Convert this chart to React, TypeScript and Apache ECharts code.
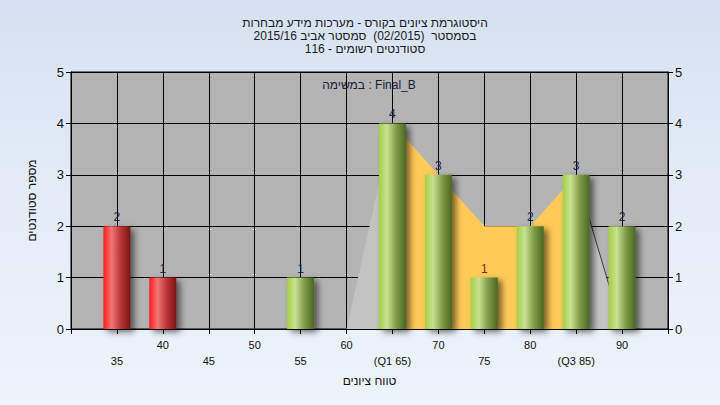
import React, { useEffect, useRef } from "react";
import * as echarts from "echarts";

const titleLines = [
  "היסטוגרמת ציונים בקורס - מערכות מידע מבחרות",
  "בסמסטר  (02/2015)  סמסטר אביב 2015/16",
  "סטודנטים רשומים - 116",
];
const legendText = "במשימה : Final_B";
const yAxisTitle = "מספר סטודנטים";
const xAxisTitle = "טווח ציונים";

const categories = [35, 40, 45, 50, 55, 60, 65, 70, 75, 80, 85, 90];
const counts = [2, 1, 0, 0, 1, 0, 4, 3, 1, 2, 3, 2];
const tickLabels = ["35", "40", "45", "50", "55", "60", "(Q1 65)", "70", "75", "80", "(Q3 85)", "90"];
const failBelow = 45;

// interquartile polygon (Q1..Q3)
const iqrX = [65, 70, 75, 80, 85];
const iqrY = [4, 3, 2, 2, 3];
// whisker polygons
const lowWhiskerX = [60, 65];
const lowWhiskerY = [0, 4];
const highWhiskerX = [85, 90];
const highWhiskerY = [3, 0];

const yTicks = [0, 1, 2, 3, 4, 5];

const FONT = "'Liberation Sans', Arial, sans-serif";

const redGrad = () =>
  new echarts.graphic.LinearGradient(0, 0, 1, 0, [
    { offset: 0, color: "#ff1c1c" },
    { offset: 0.3, color: "#f07676" },
    { offset: 0.65, color: "#b83434" },
    { offset: 1, color: "#7a1414" },
  ]);
const greenGrad = () =>
  new echarts.graphic.LinearGradient(0, 0, 1, 0, [
    { offset: 0, color: "#a2d044" },
    { offset: 0.3, color: "#c9e192" },
    { offset: 0.65, color: "#7d9a45" },
    { offset: 1, color: "#4b6622" },
  ]);

export default function App() {
  const ref = useRef<HTMLDivElement>(null);

  useEffect(() => {
    if (!ref.current) return;
    const chart = echarts.init(ref.current, null, { renderer: "svg" });

    const barData = categories
      .map((c, i) => ({ c, v: counts[i] }))
      .filter((d) => d.v > 0)
      .map((d) => ({
        value: [d.c, d.v],
        itemStyle: { color: d.c < failBelow ? redGrad() : greenGrad() },
        label: { color: d.c === 75 ? "#7a2c12" : "#1c2644" },
      }));

    const xLabel = (v: number) => {
      const i = categories.indexOf(v);
      if (i < 0) return "";
      return i % 2 === 1 ? `${tickLabels[i]}\n ` : ` \n${tickLabels[i]}`;
    };

    const yAxisCommon = {
      type: "value",
      min: yTicks[0],
      max: yTicks[yTicks.length - 1],
      interval: 1,
      axisLine: { show: true, lineStyle: { color: "#000", width: 1 } },
      axisTick: { show: true, length: 5, lineStyle: { color: "#000" } },
      axisLabel: { color: "#111", fontSize: 13, fontFamily: FONT, margin: 7 },
    };

    chart.setOption({
      animation: false,
      backgroundColor: "transparent",
      textStyle: { fontFamily: FONT },
      title: {
        text: titleLines.join("\n"),
        left: 360,
        textAlign: "center",
        top: 11,
        textStyle: { fontSize: 12, lineHeight: 13, fontWeight: "normal", color: "#1a1a22", fontFamily: FONT },
      },
      graphic: [
        {
          type: "text",
          x: 369,
          y: 85,
          style: {
            text: legendText,
            align: "center",
            verticalAlign: "middle",
            fontSize: 12,
            fill: "#1c1c3a",
            fontFamily: FONT,
          },
          z: 100,
        },
      ],
      grid: {
        left: 71,
        right: 52,
        top: 72,
        bottom: 76,
        show: true,
        backgroundColor: "#b4b4b4",
        borderColor: "#000",
        borderWidth: 1,
      },
      xAxis: {
        type: "value",
        min: 30,
        max: 95,
        interval: 5,
        name: xAxisTitle,
        nameLocation: "middle",
        nameGap: 46,
        nameTextStyle: { fontSize: 12, color: "#111", fontFamily: FONT },
        axisLine: { show: true, lineStyle: { color: "#000" } },
        axisTick: { show: true, length: 5, lineStyle: { color: "#000" } },
        splitLine: { show: true, lineStyle: { color: "#000", width: 1 } },
        axisLabel: {
          formatter: xLabel,
          fontSize: 11,
          color: "#111",
          lineHeight: 16,
          margin: 8,
          showMinLabel: true,
          showMaxLabel: true,
          fontFamily: FONT,
        },
      },
      yAxis: [
        {
          ...yAxisCommon,
          position: "left",
          name: yAxisTitle,
          nameLocation: "middle",
          nameRotate: 90,
          nameGap: 33,
          nameTextStyle: { fontSize: 12, color: "#111", fontFamily: FONT },
          splitLine: { show: true, lineStyle: { color: "#000", width: 1 } },
        },
        {
          ...yAxisCommon,
          position: "right",
          splitLine: { show: false },
        },
      ],
      series: [
        {
          type: "line",
          data: lowWhiskerX.map((x, i) => [x, lowWhiskerY[i]]),
          symbol: "none",
          lineStyle: { width: 0, color: "#c4c4c4" },
          areaStyle: { color: "#c3c3c3", opacity: 1 },
          z: 2,
          silent: true,
        },
        {
          type: "line",
          data: highWhiskerX.map((x, i) => [x, highWhiskerY[i]]),
          symbol: "none",
          lineStyle: { width: 1, color: "#3a3a3a" },
          areaStyle: { color: "#c3c3c3", opacity: 1 },
          z: 2,
          silent: true,
        },
        {
          type: "line",
          data: iqrX.map((x, i) => [x, iqrY[i]]),
          symbol: "none",
          lineStyle: { width: 0, color: "#ffca58" },
          areaStyle: { color: "#ffca58", opacity: 1 },
          z: 3,
          silent: true,
        },
        {
          type: "bar",
          data: barData,
          barWidth: 27,
          z: 5,
          itemStyle: {
            shadowBlur: 6,
            shadowOffsetX: 4,
            shadowOffsetY: 3,
            shadowColor: "rgba(0,0,0,0.55)",
          },
          label: {
            show: true,
            position: "top",
            distance: 3,
            fontSize: 12,
            fontFamily: FONT,
          },
        },
      ],
    });

    return () => chart.dispose();
  }, []);

  return (
    <div
      style={{
        position: "fixed",
        left: 0,
        top: 0,
        width: 720,
        height: 405,
        background: "linear-gradient(180deg, #d6e1f1 0%, #e4ecf8 50%, #eef4fc 100%)",
      }}
    >
      <div ref={ref} style={{ width: 720, height: 405 }} />
    </div>
  );
}
